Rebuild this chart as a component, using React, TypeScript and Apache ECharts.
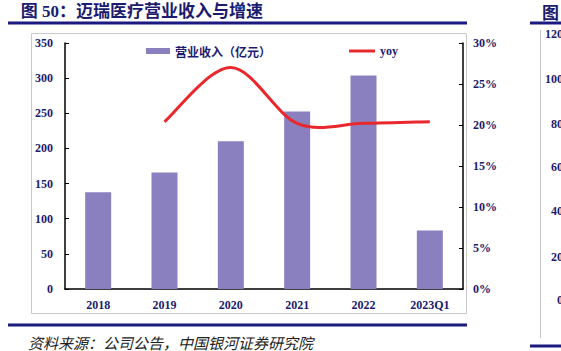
import React, { useEffect, useRef } from "react";
import * as echarts from "echarts";

const categories = ["2018", "2019", "2020", "2021", "2022", "2023Q1"];
const revenue = [137.5, 165.6, 210.3, 252.7, 303.7, 83.1];
const yoy = [null, 20.4, 27.0, 20.2, 20.2, 20.4];
const leftTicks = { min: 0, max: 350, interval: 50 };
const rightTicks = { min: 0, max: 30, interval: 5 };
const sideLabels = ["120", "100", "80", "60", "40", "20", "0"];

const NAVY = "#1b1b6f";
const SERIF = '"Liberation Serif", "Noto Sans CJK SC", serif';
const CJK = '"Noto Sans CJK SC", sans-serif';
const RED = "#e8282d";

export default function App() {
  const ref = useRef<HTMLDivElement>(null);
  useEffect(() => {
    const chart = echarts.init(ref.current!, null, { renderer: "svg" });
    const sideY = [34, 79, 124, 167, 211, 257, 300];
    const yoyData = yoy
      .map((v, i) => (v == null ? null : [i, v]))
      .filter((d) => d != null) as number[][];

    const renderLine = (params: any, api: any) => {
      if (params.dataIndex !== 0) return { type: "group", children: [] };
      const pts = yoyData.map((d) => api.coord([d[0], d[1]]));
      let d = `M${pts[0][0]},${pts[0][1]}`;
      for (let i = 0; i < pts.length - 1; i++) {
        const p0 = pts[Math.max(i - 1, 0)];
        const p1 = pts[i];
        const p2 = pts[i + 1];
        const p3 = pts[Math.min(i + 2, pts.length - 1)];
        const c1x = p1[0] + (p2[0] - p0[0]) / 6;
        const c1y = p1[1] + (p2[1] - p0[1]) / 6;
        const c2x = p2[0] - (p3[0] - p1[0]) / 6;
        const c2y = p2[1] - (p3[1] - p1[1]) / 6;
        d += ` C${c1x},${c1y} ${c2x},${c2y} ${p2[0]},${p2[1]}`;
      }
      return {
        type: "path",
        shape: { pathData: d },
        style: { fill: "none", stroke: RED, lineWidth: 3 },
      };
    };

    const txt = { color: NAVY, fontSize: 12, fontWeight: "bold", fontFamily: SERIF };

    chart.setOption({
      animation: false,
      backgroundColor: "#ffffff",
      grid: { left: 65, right: 98, top: 43, bottom: 62, containLabel: false },
      legend: [
        {
          data: ["营业收入（亿元）"],
          left: 141,
          top: 40,
          icon: "rect",
          itemWidth: 24,
          itemHeight: 6,
          itemGap: 4,
          textStyle: { color: NAVY, fontSize: 12, fontWeight: "bold", fontFamily: CJK },
        },
        {
          data: [{ name: "yoy", itemStyle: { color: RED } }],
          left: 344,
          top: 40,
          icon: "rect",
          itemWidth: 26,
          itemHeight: 3,
          textStyle: { color: NAVY, fontSize: 12, fontWeight: "bold", fontFamily: SERIF },
        },
      ],
      xAxis: {
        type: "category",
        data: categories,
        axisLine: { lineStyle: { color: "#000", width: 1.5 } },
        axisTick: { inside: true, length: 4, lineStyle: { color: "#000" } },
        axisLabel: { ...txt, margin: 10 },
      },
      yAxis: [
        {
          type: "value",
          ...leftTicks,
          axisLine: { show: true, lineStyle: { color: "#000", width: 1.5 } },
          axisTick: { show: true, inside: true, length: 4, lineStyle: { color: "#000" } },
          splitLine: { show: false },
          axisLabel: { ...txt, margin: 12 },
        },
        {
          type: "value",
          ...rightTicks,
          position: "right",
          axisLine: { show: true, lineStyle: { color: "#000", width: 1.5 } },
          axisTick: { show: true, inside: true, length: 4, lineStyle: { color: "#000" } },
          splitLine: { show: false },
          axisLabel: { ...txt, margin: 10, formatter: "{value}%" },
        },
      ],
      series: [
        {
          name: "营业收入（亿元）",
          type: "bar",
          data: revenue,
          barWidth: 26,
          itemStyle: { color: "#8a80bf" },
        },
        {
          name: "yoy",
          type: "custom",
          yAxisIndex: 1,
          data: yoyData,
          encode: { x: 0, y: 1 },
          itemStyle: { color: RED },
          renderItem: renderLine,
          z: 3,
        },
      ],
      graphic: [
        {
          type: "rect",
          shape: { x: 31.5, y: 33.5, width: 435, height: 280 },
          style: { fill: "none", stroke: "#c8c8c8", lineWidth: 1 },
          z: -1,
        },
        {
          type: "text",
          x: 263,
          y: 11,
          style: {
            text: "图 50：迈瑞医疗营业收入与增速",
            fill: NAVY,
            fontSize: 17,
            fontWeight: "bold",
            fontFamily: SERIF,
            textAlign: "right",
            textVerticalAlign: "middle",
          },
        },
        {
          type: "line",
          shape: { x1: 8, y1: 23, x2: 467, y2: 23 },
          style: { stroke: "#1a1a80", lineWidth: 3 },
        },
        {
          type: "line",
          shape: { x1: 8, y1: 325, x2: 467, y2: 325 },
          style: { stroke: "#1a1a80", lineWidth: 3 },
        },
        {
          type: "text",
          x: 28,
          y: 342,
          style: {
            text: "资料来源：公司公告，中国银河证券研究院",
            fill: "#222",
            fontSize: 15,
            fontStyle: "italic",
            fontFamily: CJK,
            textVerticalAlign: "middle",
          },
        },
        // neighbouring figure cut at the right edge
        {
          type: "text",
          x: 542,
          y: 11,
          style: {
            text: "图",
            fill: NAVY,
            fontSize: 17,
            fontWeight: "bold",
            fontFamily: CJK,
            textVerticalAlign: "middle",
          },
        },
        {
          type: "line",
          shape: { x1: 530, y1: 23, x2: 561, y2: 23 },
          style: { stroke: "#1a1a80", lineWidth: 3 },
        },
        {
          type: "line",
          shape: { x1: 530, y1: 346, x2: 561, y2: 346 },
          style: { stroke: "#1a1a80", lineWidth: 3 },
        },
        {
          type: "line",
          shape: { x1: 540.5, y1: 30, x2: 540.5, y2: 338 },
          style: { stroke: "#c8c8c8", lineWidth: 1 },
        },
        ...sideLabels.map((t, i) => ({
          type: "text",
          x: 563,
          y: sideY[i],
          style: {
            text: t,
            fill: NAVY,
            fontSize: 12,
            fontWeight: "bold",
            fontFamily: SERIF,
            textAlign: "right",
            textVerticalAlign: "middle",
          },
        })),
      ],
    });
    return () => chart.dispose();
  }, []);
  return (
    <div
      ref={ref}
      style={{ position: "fixed", left: 0, top: 0, width: 561, height: 351 }}
    />
  );
}
